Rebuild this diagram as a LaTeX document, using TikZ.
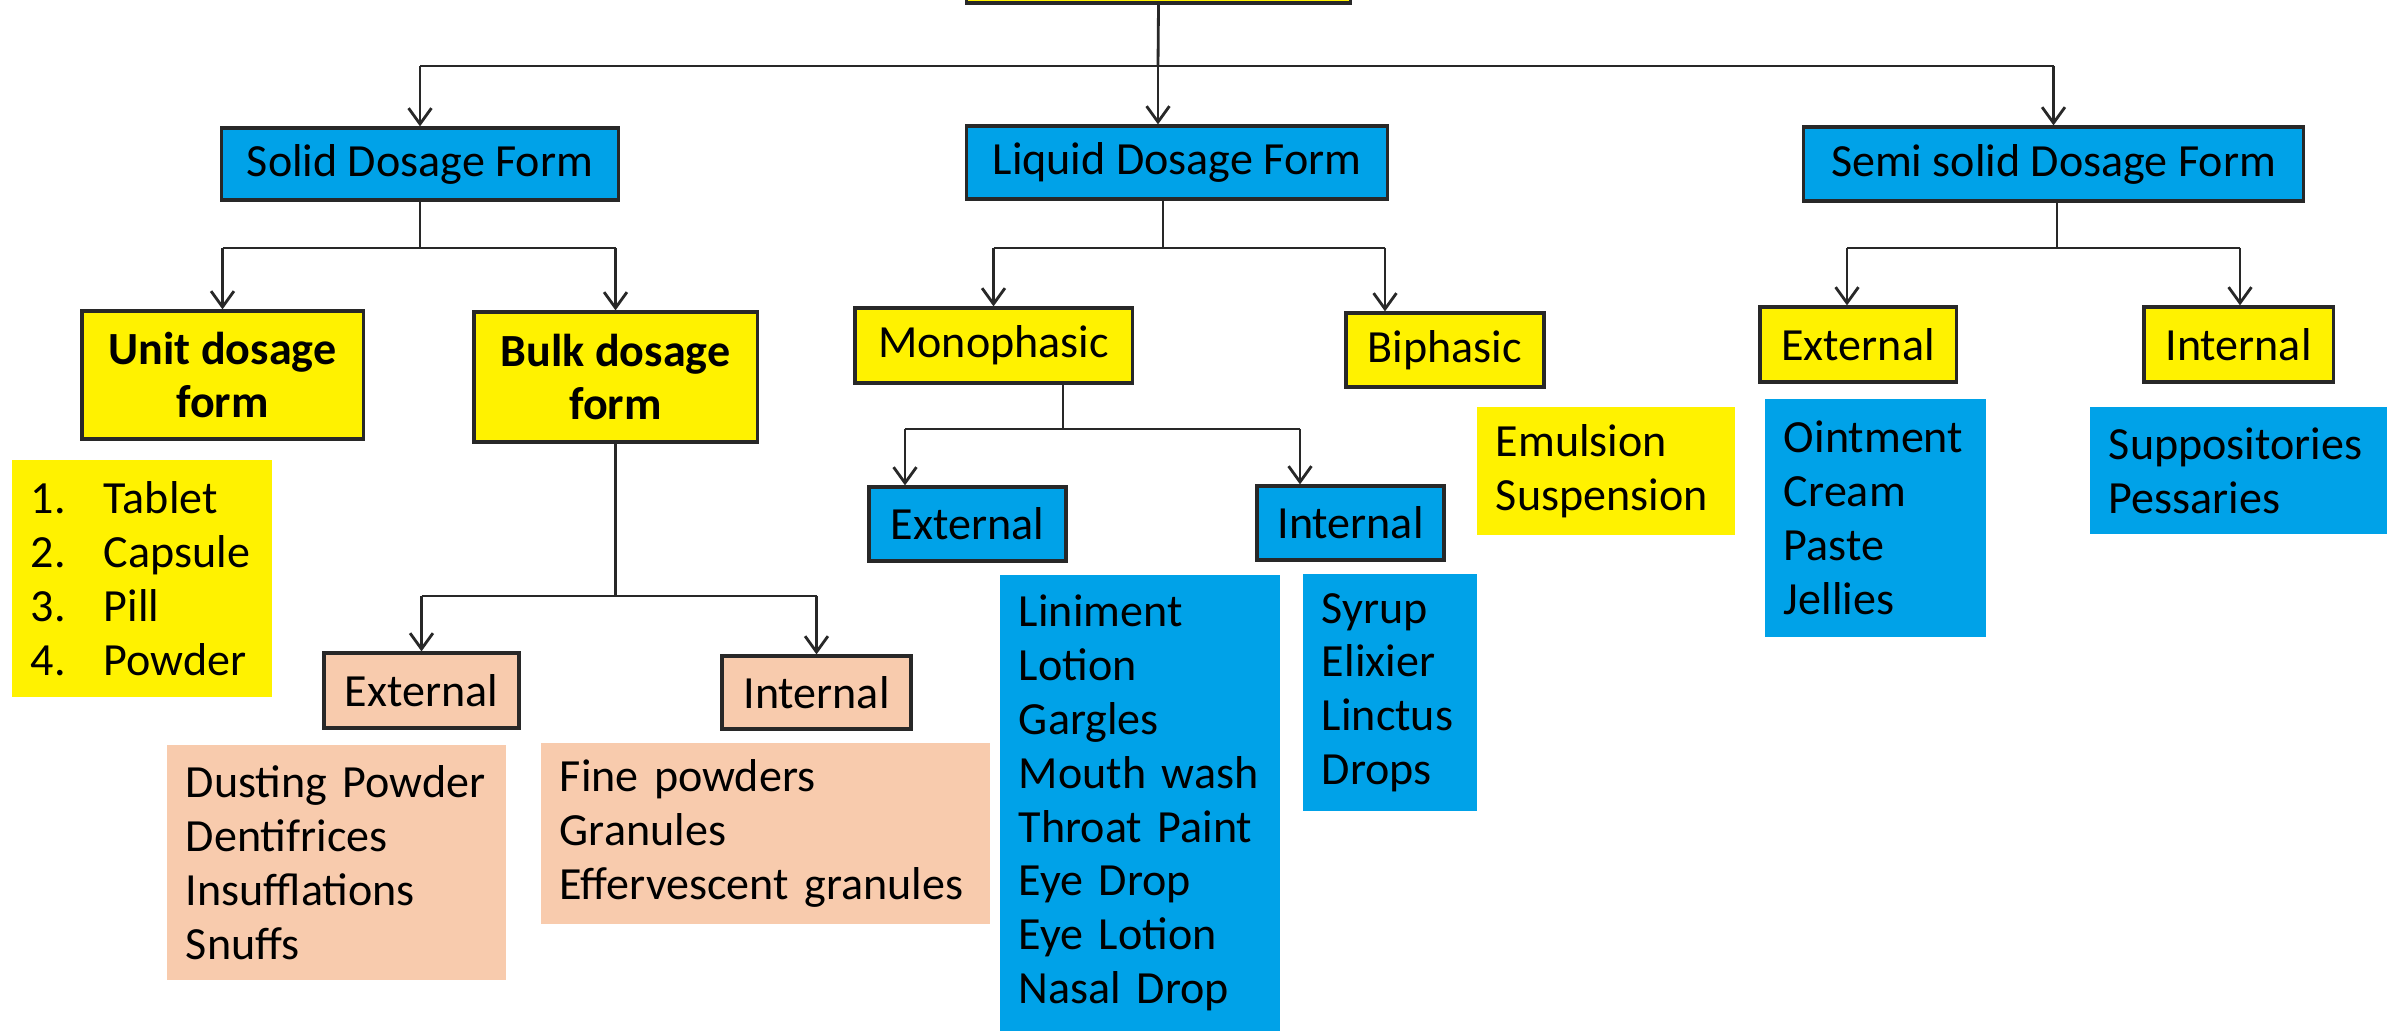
\documentclass[tikz,border=0pt]{standalone}
\usepackage{fontspec}
\setmainfont{Carlito}
\usetikzlibrary{arrows.meta}
\definecolor{ybox}{RGB}{255,242,0}
\definecolor{bbox}{RGB}{0,162,232}
\definecolor{pbox}{RGB}{248,203,173}
\definecolor{edge}{RGB}{40,40,40}
\begin{document}
\begin{tikzpicture}[x=0.01cm,y=-0.01cm,
  txt/.style={font=\fontsize{13.1}{15.3}\selectfont, text=black},
  framed/.style={txt, draw=edge, line width=0.9pt, inner sep=0pt, align=center},
  listbox/.style={txt, inner xsep=0.19cm, inner ysep=0pt, align=left},
  conn/.style={draw=edge, line width=0.8pt},
  arr/.style={conn, -{Straight Barb[length=4.5pt,width=6.5pt]}},
]
\useasboundingbox (0,0) rectangle (2394,1031);
\clip (0,0) rectangle (2394,1031);
\fill[white] (0,0) rectangle (2394,1031);

% bordered boxes
\node[framed, fill=ybox, minimum width=3.83cm, minimum height=0.86cm] (top) at (1158.5,-40) {};
\node[framed, fill=bbox, minimum width=3.96cm, minimum height=0.72cm] (solid) at (420,164) {Solid Dosage Form};
\node[framed, fill=bbox, minimum width=4.20cm, minimum height=0.73cm] (liquid) at (1177,162.5) {Liquid Dosage Form};
\node[framed, fill=bbox, minimum width=4.99cm, minimum height=0.74cm] (semi) at (2053.5,164) {Semi solid Dosage Form};
\node[framed, fill=ybox, minimum width=2.81cm, minimum height=1.28cm, font=\fontsize{13.1}{15.3}\selectfont\bfseries] (unit) at (222.5,375) {Unit dosage\\form};
\node[framed, fill=ybox, minimum width=2.83cm, minimum height=1.30cm, font=\fontsize{13.1}{15.3}\selectfont\bfseries] (bulk) at (615.5,377) {Bulk dosage\\form};
\node[framed, fill=ybox, minimum width=2.77cm, minimum height=0.75cm] (mono) at (993.5,345.5) {Monophasic};
\node[framed, fill=ybox, minimum width=1.98cm, minimum height=0.74cm] (bi) at (1445,350) {Biphasic};
\node[framed, fill=ybox, minimum width=1.96cm, minimum height=0.75cm] (semiext) at (1858,344.5) {External};
\node[framed, fill=ybox, minimum width=1.89cm, minimum height=0.75cm] (semiint) at (2238.5,344.5) {Internal};
\node[framed, fill=bbox, minimum width=1.97cm, minimum height=0.74cm] (lext) at (967.5,524) {External};
\node[framed, fill=bbox, minimum width=1.87cm, minimum height=0.74cm] (lint) at (1350.5,523) {Internal};
\node[framed, fill=pbox, minimum width=1.95cm, minimum height=0.75cm] (bext) at (421.5,690.5) {External};
\node[framed, fill=pbox, minimum width=1.89cm, minimum height=0.73cm] (bint) at (816.5,692.5) {Internal};

% list boxes
\node[listbox, fill=ybox, text width=2.22cm, minimum height=2.37cm] (tablets) at (142,578.5)
  {\makebox[0.73cm][l]{1.}Tablet\\\makebox[0.73cm][l]{2.}Capsule\\\makebox[0.73cm][l]{3.}Pill\\\makebox[0.73cm][l]{4.}Powder};
\node[listbox, fill=pbox, text width=3.01cm, minimum height=2.35cm] (dusting) at (336.5,862.5)
  {Dusting~Powder\\Dentifrices\\Insufflations\\Snuffs};
\node[listbox, fill=pbox, text width=4.11cm, minimum height=1.81cm] (fine) at (765.5,833.5)
  {Fine~powders\\Granules\\Effervescent~granules};
\node[listbox, fill=bbox, text width=2.42cm, minimum height=4.56cm] (liniment) at (1140,803)
  {Liniment\\Lotion\\Gargles\\Mouth~wash\\Throat~Paint\\Eye~Drop\\Eye~Lotion\\Nasal~Drop};
\node[listbox, fill=bbox, text width=1.36cm, minimum height=2.37cm] (syrup) at (1390,692.5)
  {Syrup\\Elixier\\Linctus\\Drops};
\node[listbox, fill=ybox, text width=2.20cm, minimum height=1.28cm] (emulsion) at (1606,471)
  {Emulsion\\Suspension};
\node[listbox, fill=bbox, text width=1.83cm, minimum height=2.38cm] (ointment) at (1875.5,518)
  {Ointment\\Cream\\Paste\\Jellies};
\node[listbox, fill=bbox, text width=2.59cm, minimum height=1.27cm] (supp) at (2238.5,470.5)
  {Suppositories\\Pessaries};

% top level connectors
\coordinate (j0) at (1158,66);
\draw[conn] (top.south) -- (j0);
\draw[conn] (solid.north |- j0) -- (semi.north |- j0);
\draw[arr] (solid.north |- j0) -- (solid.north);
\draw[arr] (j0) -- (j0 |- liquid.north);
\draw[arr] (semi.north |- j0) -- (semi.north);

% solid
\coordinate (j1) at (420,248);
\draw[conn] (solid.south) -- (solid.south |- j1);
\draw[conn] (unit.north |- j1) -- (bulk.north |- j1);
\draw[arr] (unit.north |- j1) -- (unit.north);
\draw[arr] (bulk.north |- j1) -- (bulk.north);

% liquid
\coordinate (j2) at (1163,248);
\coordinate (j2b) at (1385,248);
\draw[conn] (j2 |- liquid.south) -- (j2);
\draw[conn] (mono.north |- j2) -- (j2b);
\draw[arr] (mono.north |- j2) -- (mono.north);
\draw[arr] (j2b) -- (j2b |- bi.north);

% semi solid
\coordinate (j3) at (2057,248);
\coordinate (j3a) at (1847,248);
\coordinate (j3b) at (2240,248);
\draw[conn] (j3 |- semi.south) -- (j3);
\draw[conn] (j3a) -- (j3b);
\draw[arr] (j3a) -- (j3a |- semiext.north);
\draw[arr] (j3b) -- (j3b |- semiint.north);

% monophasic
\coordinate (j4) at (1063,429);
\coordinate (j4a) at (905,429);
\coordinate (j4b) at (1300,429);
\draw[conn] (j4 |- mono.south) -- (j4);
\draw[conn] (j4a) -- (j4b);
\draw[arr] (j4a) -- (j4a |- lext.north);
\draw[arr] (j4b) -- (j4b |- lint.north);

% bulk
\coordinate (j5) at (616,596);
\draw[conn] (bulk.south) -- (bulk.south |- j5);
\draw[conn] (bext.north |- j5) -- (bint.north |- j5);
\draw[arr] (bext.north |- j5) -- (bext.north);
\draw[arr] (bint.north |- j5) -- (bint.north);
\end{tikzpicture}
\end{document}
